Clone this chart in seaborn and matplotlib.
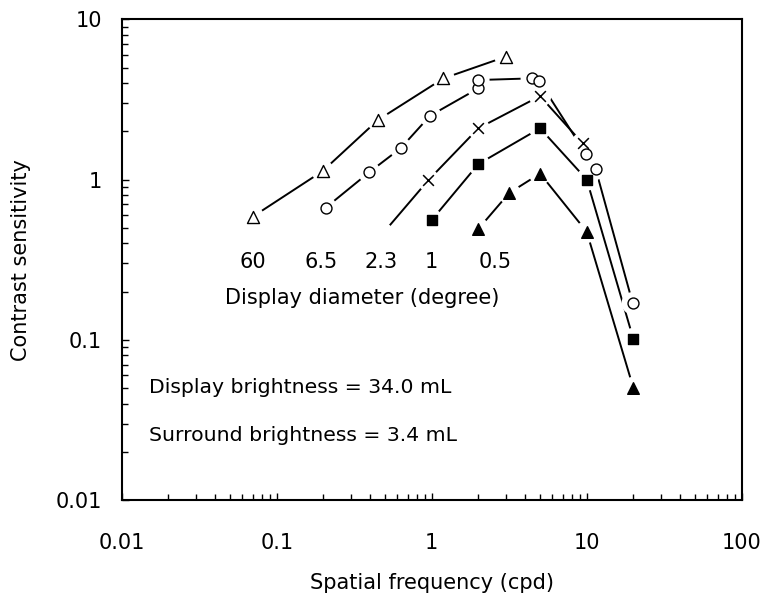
import numpy as np
import pandas as pd
import matplotlib
matplotlib.use("Agg")
import matplotlib.pyplot as plt
from matplotlib.ticker import LogLocator, NullFormatter, FixedLocator, FixedFormatter
import seaborn as sns

# Contrast sensitivity vs spatial frequency for several display diameters
freq_60 = [0.070, 0.198, 0.449, 1.19, 3.0]
cs_60 = [0.586, 1.13, 2.35, 4.28, 5.84]

freq_6_5 = [0.207, 0.395, 0.631, 0.975, 2.0, 2.0, 4.42, 4.94, 9.9, 11.4, 19.8]
cs_6_5 = [0.667, 1.11, 1.57, 2.50, 3.71, 4.18, 4.28, 4.12, 1.44, 1.17, 0.169]

freq_2_3 = [0.482, 0.95, 2.0, 5.0, 9.42]
cs_2_3 = [0.459, 0.99, 2.09, 3.32, 1.68]

freq_1 = [1.0, 2.0, 5.0, 10.0, 20.0]
cs_1 = [0.559, 1.25, 2.09, 1.0, 0.101]

freq_0_5 = [2.0, 3.16, 5.0, 10.0, 20.0]
cs_0_5 = [0.492, 0.824, 1.09, 0.472, 0.05]

diameter_labels = ["60", "6.5", "2.3", "1", "0.5"]
x_ticks = [0.01, 0.1, 1, 10, 100]
x_tick_labels = ["0.01", "0.1", "1", "10", "100"]
y_ticks = [0.01, 0.1, 1, 10]
y_tick_labels = ["0.01", "0.1", "1", "10"]

series = [
    # (freqs, values, marker, face, marker size, first marker drawn)
    (freq_60, cs_60, "^", "white", 75, True),
    (freq_6_5, cs_6_5, "o", "white", 62, True),
    (freq_2_3, cs_2_3, "x", "black", 60, False),
    (freq_1, cs_1, "s", "black", 55, True),
    (freq_0_5, cs_0_5, "^", "black", 70, True),
]

sns.set_theme(style="white")
plt.rcParams["font.family"] = ["DejaVu Sans"]
plt.rcParams["text.color"] = "black"
plt.rcParams["axes.labelcolor"] = "black"
plt.rcParams["xtick.color"] = "black"
plt.rcParams["ytick.color"] = "black"

fig = plt.figure(figsize=(7.62, 6.04), dpi=100)
ax = fig.add_axes([0.1597, 0.1722, 0.8137, 0.7958])
ax.set_xscale("log")
ax.set_yscale("log")

for xs, ys, mk, face, size, show_first in series:
    df = pd.DataFrame({"f": xs, "cs": ys})
    sns.lineplot(data=df, x="f", y="cs", estimator=None, sort=False,
                 color="black", linewidth=1.4, ax=ax, zorder=1)
    # white halo leaves a small gap between the line and each symbol
    sns.scatterplot(data=df, x="f", y="cs", marker="o", s=260, color="white",
                    edgecolor="none", linewidth=0, ax=ax, zorder=2)
    shown = df if show_first else df.iloc[1:]
    if mk == "x":
        sns.scatterplot(data=shown, x="f", y="cs", marker="x", s=size,
                        color="black", linewidth=1.1, ax=ax, zorder=3)
    else:
        sns.scatterplot(data=shown, x="f", y="cs", marker=mk, s=size,
                        facecolor=face, edgecolor="black", linewidth=1.0,
                        ax=ax, zorder=3)

ax.set_xlim(0.01, 100)
ax.set_ylim(0.01, 10)

ax.xaxis.set_major_locator(FixedLocator(x_ticks))
ax.xaxis.set_major_formatter(FixedFormatter(x_tick_labels))
ax.yaxis.set_major_locator(FixedLocator(y_ticks))
ax.yaxis.set_major_formatter(FixedFormatter(y_tick_labels))
ax.xaxis.set_minor_locator(LogLocator(base=10, subs=np.arange(2, 10)))
ax.yaxis.set_minor_locator(LogLocator(base=10, subs=np.arange(2, 10)))
ax.xaxis.set_minor_formatter(NullFormatter())
ax.yaxis.set_minor_formatter(NullFormatter())

ax.tick_params(which="both", direction="in", top=False, right=False,
               bottom=True, left=True, color="black", width=1.0)
ax.tick_params(which="major", length=5)
ax.tick_params(which="minor", length=4)
ax.tick_params(axis="x", which="major", pad=24, labelsize=15)
ax.tick_params(axis="y", which="major", pad=14, labelsize=15)

for sp in ax.spines.values():
    sp.set_color("black")
    sp.set_linewidth(1.5)

ax.set_xlabel("Spatial frequency (cpd)", fontsize=15, labelpad=14)
ax.set_ylabel("Contrast sensitivity", fontsize=15, labelpad=18)

# Display diameter labels under each curve
label_x = [0.070, 0.193, 0.471, 0.99, 2.56]
for lx, txt in zip(label_x, diameter_labels):
    ax.text(lx, 0.305, txt, fontsize=15, ha="center", va="center")
ax.text(0.355, 0.182, "Display diameter (degree)", fontsize=15,
        ha="center", va="center")

ax.text(0.015, 0.0507, "Display brightness = 34.0 mL", fontsize=14.7,
        ha="left", va="center")
ax.text(0.015, 0.0251, "Surround brightness = 3.4 mL", fontsize=14.7,
        ha="left", va="center")

fig.savefig("out.png", dpi=100, facecolor="white")
